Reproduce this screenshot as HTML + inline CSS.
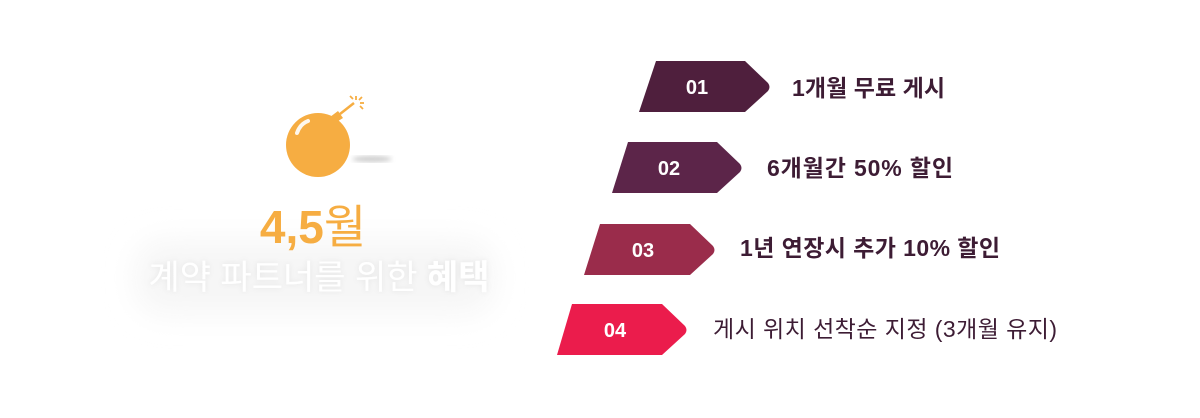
<!DOCTYPE html>
<html><head><meta charset="utf-8"><style>
html,body{margin:0;padding:0;background:#fff;width:1200px;height:418px;overflow:hidden}
svg{display:block}
text{font-family:"Liberation Sans","Noto Sans CJK KR",sans-serif}
</style></head><body>
<svg width="1200" height="418" viewBox="0 0 1200 418" xmlns="http://www.w3.org/2000/svg">
<defs>
<filter id="sh" x="-20%" y="-50%" width="140%" height="200%"><feGaussianBlur stdDeviation="14"/></filter>
<filter id="ts" x="-10%" y="-50%" width="120%" height="200%"><feDropShadow dx="0" dy="0" stdDeviation="3" flood-color="#000" flood-opacity="0.08"/></filter>
<filter id="bs"><feGaussianBlur stdDeviation="2.5"/></filter>
</defs>
<rect x="135" y="240" width="360" height="75" rx="30" fill="#f6f6f6" filter="url(#sh)"/>
<ellipse cx="372" cy="159" rx="20" ry="3" fill="#aaa" opacity="0.6" filter="url(#bs)"/>
<circle cx="318" cy="145" r="32" fill="#f6ad42"/>
<path d="M330 117 L338 111 L343 118 L335 123 Z" fill="#f6ad42"/>
<line x1="340" y1="114" x2="354" y2="103" stroke="#f6ad42" stroke-width="2.5"/>
<g stroke="#f6ad42" stroke-width="1.8"><line x1="356" y1="100" x2="356" y2="96"/><line x1="359" y1="100" x2="362" y2="97"/><line x1="360" y1="103" x2="364" y2="103"/><line x1="360" y1="106" x2="363" y2="109"/><line x1="353" y1="99" x2="350" y2="96"/></g>
<path d="M297 133 Q300 124 308 121" stroke="#fff" stroke-width="4" fill="none" stroke-linecap="round" opacity="0.9"/>
<text x="313" y="243" text-anchor="middle" font-size="46" font-weight="bold" fill="#f6ad42">4,5<tspan font-weight="normal">월</tspan></text>
<text x="319" y="289" text-anchor="middle" font-size="34" fill="#fff" filter="url(#ts)">계약 파트너를 위한 <tspan font-weight="bold">혜택</tspan></text>
<path d="M656 61 L745 61 L768 83 Q771 87 768 91 L745 112 L639 112 Z" fill="#4f1f3d"/>
<path d="M628 142 L717 142 L740 164 Q743 168 740 172 L717 193 L612 193 Z" fill="#5c2549"/>
<path d="M600 224 L690 224 L713 246 Q716 250 713 254 L690 275 L584 275 Z" fill="#9a2c4b"/>
<path d="M572 304 L662 304 L685 326 Q688 330 685 334 L662 355 L557 355 Z" fill="#eb1c4c"/>
<g font-size="20" fill="#fff" text-anchor="middle" font-weight="bold">
<text x="697" y="94">01</text><text x="669" y="175">02</text><text x="643" y="257">03</text><text x="615" y="337">04</text>
</g>
<g font-size="23" fill="#3d1c34" font-weight="bold">
<text x="792" y="96" textLength="153" lengthAdjust="spacing">1개월 무료 게시</text>
<text x="767" y="176" textLength="186" lengthAdjust="spacing">6개월간 50% 할인</text>
<text x="740" y="256" textLength="260" lengthAdjust="spacing">1년 연장시 추가 10% 할인</text>
<text x="713" y="337" font-weight="normal" textLength="344" lengthAdjust="spacing">게시 위치 선착순 지정 (3개월 유지)</text>
</g>
</svg>
</body></html>
